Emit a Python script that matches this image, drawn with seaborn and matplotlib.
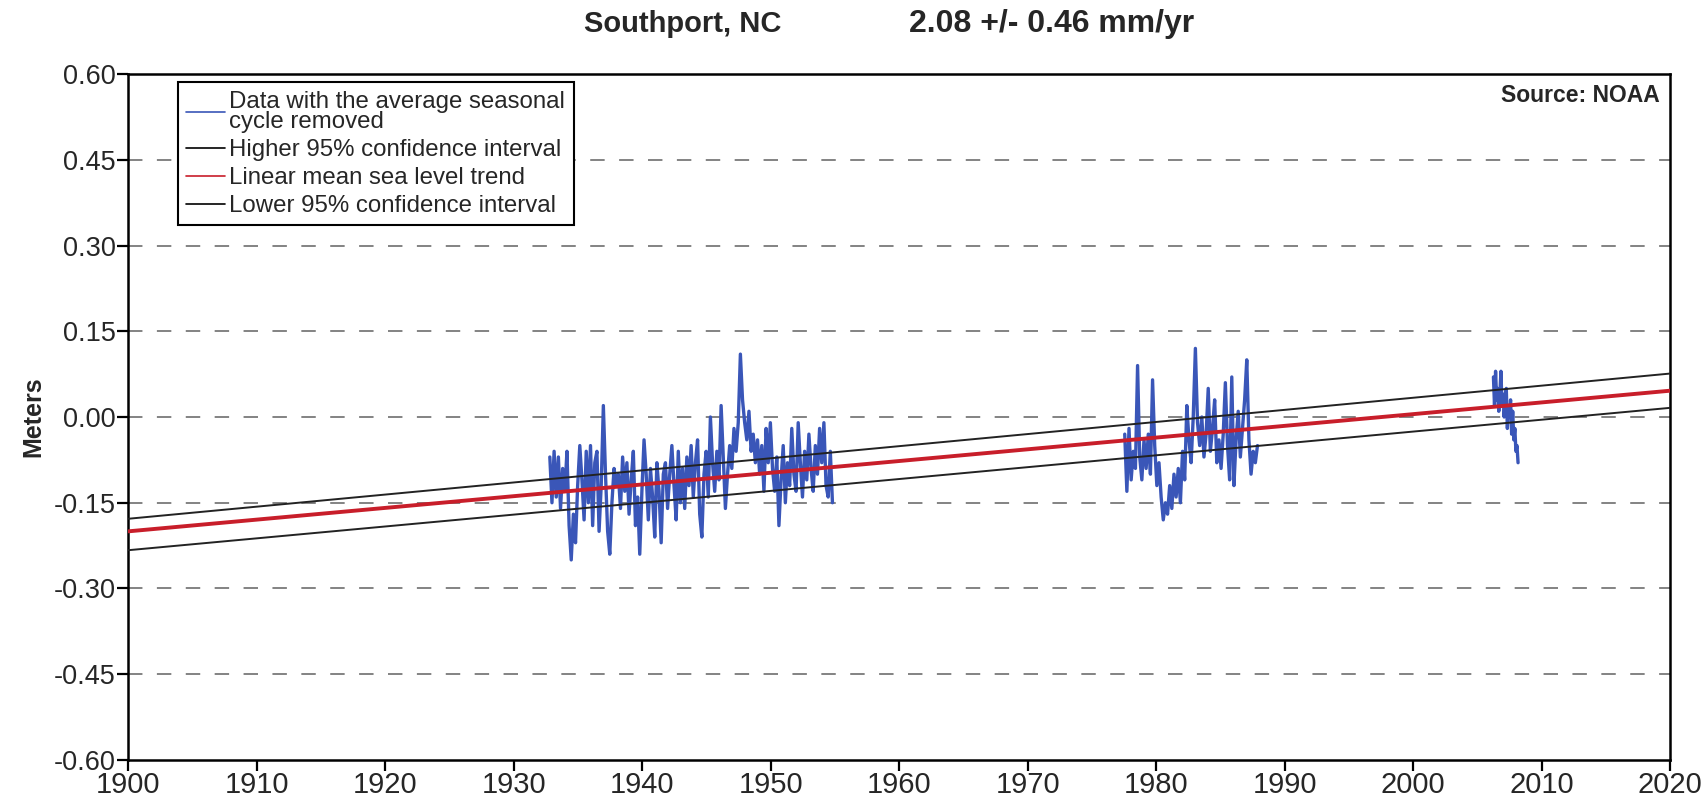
import numpy as np
import pandas as pd
import matplotlib
matplotlib.use("Agg")
import matplotlib.pyplot as plt
import seaborn as sns
from matplotlib.lines import Line2D

# ---------------- data ----------------
seg1_start = 1932.8
seg1_step = 1 / 6
seg1_values = [
    -0.07, -0.15,
    -0.06, -0.14, -0.07, -0.16, -0.09, -0.13,
    -0.06, -0.19, -0.25, -0.17, -0.22, -0.12,
    -0.05, -0.11, -0.18, -0.06, -0.15, -0.05,
    -0.19, -0.08, -0.06, -0.20, -0.12, 0.02,
    -0.10, -0.20, -0.24, -0.15, -0.09, -0.12,
    -0.10, -0.16, -0.07, -0.13, -0.08, -0.17,
    -0.11, -0.06, -0.19, -0.14, -0.24, -0.13,
    -0.04, -0.10, -0.18, -0.09, -0.14, -0.21,
    -0.08, -0.13, -0.22, -0.10, -0.08, -0.16,
    -0.10, -0.05, -0.12, -0.18, -0.06, -0.15,
    -0.09, -0.16, -0.07, -0.12, -0.05, -0.14,
    -0.08, -0.04, -0.17, -0.21, -0.10, -0.06,
    -0.14, 0.00, -0.08, -0.13, -0.06, -0.11,
    0.02, -0.07, -0.16, -0.10, -0.05, -0.09,
    -0.02, -0.06, -0.01, 0.11, 0.03, -0.01,
    -0.04, 0.01, -0.06, -0.03, -0.08, -0.04,
    -0.10, -0.05, -0.13, -0.02, -0.08, -0.01,
    -0.09, -0.13, -0.07, -0.19, -0.11, -0.05,
    -0.15, -0.08, -0.12, -0.02, -0.10, -0.13,
    -0.01, -0.08, -0.14, -0.06, -0.11, -0.03,
    -0.09, -0.13, -0.05, -0.10, -0.02, -0.08,
    -0.01, -0.12, -0.14, -0.06, -0.15,
]

seg2_start = 1977.55
seg2_step = 1 / 6
seg2_values = [
    -0.03, -0.13, -0.02, -0.11,
    -0.06, -0.09, 0.09, -0.07, -0.11, -0.04,
    -0.09, -0.03, -0.10, 0.065, -0.05, -0.12,
    -0.08, -0.14, -0.18, -0.15, -0.17, -0.12,
    -0.16, -0.10, -0.14, -0.09, -0.15, -0.06,
    -0.11, 0.02, -0.04, -0.08, 0.00, 0.12,
    -0.01, -0.05, 0.00, -0.07, -0.03, 0.05,
    -0.06, -0.02, 0.03, -0.08, -0.04, -0.09,
    -0.03, 0.06, -0.05, -0.11, 0.07, -0.12,
    -0.04, 0.01, -0.07, -0.02, 0.03, 0.10,
    -0.04, -0.10, -0.06, -0.08, -0.05,
]

seg3_start = 2006.25
seg3_step = 1 / 12
seg3_values = [
    0.07, 0.02, 0.08, 0.03, 0.05, 0.01, 0.04, 0.08, 0.02, 0.04, 0.00, 0.03,
    0.05, -0.02, 0.02, 0.00, 0.03, -0.03, 0.01, -0.04, -0.02, -0.06, -0.05, -0.08,
]

trend_years = [1900, 2020]
trend_mean = [-0.200, 0.046]
trend_upper = [-0.178, 0.076]
trend_lower = [-0.233, 0.016]

y_ticks = [-0.60, -0.45, -0.30, -0.15, 0.00, 0.15, 0.30, 0.45, 0.60]
x_ticks = [1900, 1910, 1920, 1930, 1940, 1950, 1960, 1970, 1980, 1990, 2000, 2010, 2020]

title_left = "Southport, NC"
title_right = "2.08 +/- 0.46 mm/yr"
source_text = "Source: NOAA"
legend_labels = ["Data with the average seasonal\ncycle removed",
                 "Higher 95% confidence interval",
                 "Linear mean sea level trend",
                 "Lower 95% confidence interval"]

BLUE = "#3a56b8"
RED = "#c81e2a"

# ---------------- figure ----------------
sns.set_theme(style="white")
plt.rcParams["font.family"] = ["Liberation Sans", "DejaVu Sans"]

fig = plt.figure(figsize=(17.08, 8.02), dpi=100)
ax = fig.add_axes([0.0752, 0.0524, 0.9026, 0.8553])

def seg_df(start, step, vals):
    t = start + step * np.arange(len(vals))
    return pd.DataFrame({"year": t, "level": vals})

for start, step, vals in [(seg1_start, seg1_step, seg1_values),
                          (seg2_start, seg2_step, seg2_values),
                          (seg3_start, seg3_step, seg3_values)]:
    sns.lineplot(data=seg_df(start, step, vals), x="year", y="level", ax=ax,
                 color=BLUE, lw=2.4, sort=False, estimator=None, zorder=3)

tdf = pd.DataFrame({"year": trend_years, "mean": trend_mean,
                    "upper": trend_upper, "lower": trend_lower})
sns.lineplot(data=tdf, x="year", y="upper", ax=ax, color="#222222", lw=1.4, zorder=4)
sns.lineplot(data=tdf, x="year", y="lower", ax=ax, color="#222222", lw=1.4, zorder=4)
sns.lineplot(data=tdf, x="year", y="mean", ax=ax, color=RED, lw=2.8, zorder=5)

# grid lines
for yv in y_ticks[1:-1]:
    ax.axhline(yv, color="#7a7a7a", lw=1.3, linestyle=(0, (8, 8)), zorder=1)

ax.set_xlim(1900, 2020)
ax.set_ylim(-0.60, 0.60)
ax.set_xticks(x_ticks)
ax.set_yticks(y_ticks)
ax.set_yticklabels([f"{v:.2f}".replace("\u2212", "-") for v in y_ticks])
ax.tick_params(axis="both", which="major", direction="out", length=8, width=1.6,
               color="black", left=True, bottom=True)
ax.tick_params(axis="x", pad=0, labelsize=21)
ax.tick_params(axis="y", pad=1, labelsize=19.5)
ax.set_xlabel("")
ax.set_ylabel("Meters", fontsize=18, fontweight="bold", labelpad=6)

for sp in ax.spines.values():
    sp.set_color("black")
    sp.set_linewidth(1.8)

# legend
handles = [Line2D([0], [0], color=BLUE, lw=1.2),
           Line2D([0], [0], color="black", lw=1.2),
           Line2D([0], [0], color=RED, lw=1.2),
           Line2D([0], [0], color="black", lw=1.2)]
leg = ax.legend(handles, legend_labels, loc="upper left",
                bbox_to_anchor=(0.032, 0.988), borderaxespad=0, fontsize=17.3,
                frameon=True, fancybox=False, framealpha=1, edgecolor="black",
                handlelength=1.6, handletextpad=0.2, labelspacing=0.25,
                borderpad=0.35)
leg.get_frame().set_linewidth(1.5)
for txt in leg.get_texts():
    txt.set_linespacing(0.9)

ax.text(0.993, 0.985, source_text, transform=ax.transAxes, ha="right", va="top",
        fontsize=16.5, fontweight="bold")

fig.text(683 / 1708, 0.970, title_left, ha="center", va="center",
         fontsize=21, fontweight="bold")
fig.text(1052 / 1708, 0.970, title_right, ha="center", va="center",
         fontsize=23, fontweight="bold")

fig.savefig("out.png", dpi=100, facecolor="white")
